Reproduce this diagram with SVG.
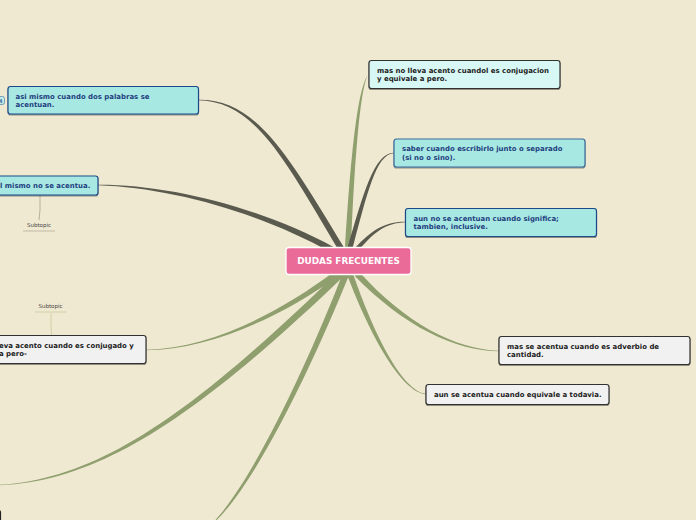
<svg xmlns="http://www.w3.org/2000/svg" width="696" height="520" viewBox="0 0 696 520">
<style>
text{font-family:"DejaVu Sans",sans-serif;font-weight:700;font-size:6.950px}
.b{fill:#a8e8e2}
.t{fill:#1f3f7f}
.k{fill:#222}
.box{stroke-width:1.2}
.g{fill:#8f9f6e}
.d{fill:#5a5a4e}
.sub{font-size:5.500px;font-weight:400;fill:#444}
</style>
<defs><filter id="s" x="-5%" y="-10%" width="110%" height="130%"><feDropShadow dx="0" dy="1" stdDeviation="0.7" flood-color="#000" flood-opacity="0.4"/></filter></defs>
<rect width="696" height="520" fill="#f0e9d2"/>
<g id="connectors">
<path class="g" d="M368 74.800C359.500 90 354.200 170 351 250L345 250C349.800 170 356.500 90 367.800 75.200Z"/>
<path class="d" d="M198 99.750C255.800 98.700 287.200 153.750 344.600 248.500L339.400 251.500C282.800 156.250 254.200 101.300 198 100.250Z"/>
<path class="d" d="M98 184.750C170 184.500 260.750 207.600 334.400 247.400L331.600 252.600C259.250 212.400 170 187.500 98 185.250Z"/>
<path class="d" d="M394 153.200C375.800 153.600 366.800 195.400 352.400 248.700L347.600 247.300C363.200 194.600 374.200 152.400 394 152.800Z"/>
<path class="d" d="M406 222.250C385.300 222.750 373 233 358.700 250.400L355.300 247.600C371 231 384.700 221.250 406 221.750Z"/>
<path class="g" d="M499 350.750C455.200 349.200 406.100 323.600 359.200 272L354.800 276C403.900 326.400 454.800 350.800 499 351.250Z"/>
<path class="g" d="M426 393.750C402.500 391.400 373.800 334.200 352.800 273L347.200 275C370.200 335.800 401.500 392.600 426 394.250Z"/>
<path class="g" d="M146 350.250C210.250 349.750 281 316.700 337.800 276.400L334.200 271.600C279 313.300 209.750 348.250 146 349.750Z"/>
<path class="g" d="M0 485.250C100.400 481.100 196.900 417 344.500 275.500L339.500 270.500C193.100 413 99.600 478.900 0 484.750Z"/>
<path class="g" d="M216.400 520.300C256.600 481.200 312.250 366 349 275.200L343 272.800C307.750 364 253.400 478.800 215.600 519.700Z"/>
<path d="M40 196L40 210L39 220" fill="none" stroke="#b5b09c" stroke-width="1"/>
<path d="M51 313L51 325L51.500 335" fill="none" stroke="#d0d0a8" stroke-width="1"/>
</g>
<g id="node-central"><rect x="286" y="247.500" width="125" height="27" rx="3" fill="#ea6a98" stroke="#fff" stroke-width="1.300"/><text x="348.500" y="264" text-anchor="middle" fill="#fff" style="font-size:8.850px">DUDAS FRECUENTES</text></g>
<g id="node-asi"><rect class="b box" x="8" y="86.500" width="190.500" height="27.500" rx="2.500" stroke="#1c4a8a" filter="url(#s)"/><text class="t" x="15.500" y="98.500">asi mismo cuando dos palabras se</text><text class="t" x="15.500" y="106.800">acentuan.</text></g>
<g id="badge"><rect x="-3" y="96.500" width="7.500" height="8" rx="2" fill="#c4e8e6" stroke="#5a8ab0" stroke-width="0.800"/><text x="-1" y="102.500" fill="#3a6a9a" style="font-size:5px">4</text></g>
<g id="node-el"><rect class="b box" x="-20" y="176" width="118" height="19" rx="2.500" stroke="#1c4a8a" filter="url(#s)"/><text class="t" x="0" y="188">l mismo no se acentua.</text></g>
<g id="subtopic-1"><text class="sub" x="39" y="227" text-anchor="middle">Subtopic</text><path d="M23 231H55" stroke="#c0bba8" stroke-width="1"/></g>
<g id="node-masno"><rect x="369" y="60.500" width="191" height="28" rx="2.500" fill="#d8f8f5" stroke="#333" stroke-width="1.200" filter="url(#s)"/><text class="k" x="377" y="72.500">mas no lleva acento cuandol es conjugacion</text><text class="k" x="377" y="80.800">y equivale a pero.</text></g>
<g id="node-saber"><rect class="b box" x="394" y="139" width="191" height="28" rx="2.500" stroke="#3a6a9a" filter="url(#s)"/><text class="t" x="402" y="150.800">saber cuando escribirlo junto o separado</text><text class="t" x="402" y="159.800">(si no o sino).</text></g>
<g id="node-aunno"><rect class="b box" x="405.500" y="208.500" width="191" height="28" rx="2.500" stroke="#1c4a8a" filter="url(#s)"/><text class="t" x="413.500" y="220.500">aun no se acentuan cuando significa;</text><text class="t" x="413.500" y="228.800">tambien, inclusive.</text></g>
<g id="node-masse"><rect x="499" y="336.500" width="191" height="28" rx="2.500" fill="#f1f1f1" stroke="#333" stroke-width="1.200" filter="url(#s)"/><text class="k" x="507" y="348.800">mas se acentua cuando es adverbio de</text><text class="k" x="507" y="357">cantidad.</text></g>
<g id="node-aunse"><rect x="426" y="384.500" width="183" height="20" rx="2.500" fill="#f1f1f1" stroke="#333" stroke-width="1.200" filter="url(#s)"/><text class="k" x="434" y="396.800">aun se acentua cuando equivale a todavia.</text></g>
<g id="node-lleva"><rect x="-20" y="335.500" width="166" height="28" rx="2.500" fill="#f1f1f1" stroke="#333" stroke-width="1.200" filter="url(#s)"/><text class="k" x="-1" y="347.800">eva acento cuando es conjugado y</text><text class="k" x="-1" y="356">a pero-</text></g>
<g id="subtopic-2"><text class="sub" x="50.500" y="308" text-anchor="middle">Subtopic</text><path d="M35 312H67" stroke="#d0d0a8" stroke-width="1"/></g>
<g id="node-bottom"><rect x="-20" y="510" width="20.500" height="30" rx="2.500" fill="#f1f1f1" stroke="#222" stroke-width="1.200"/></g>
</svg>
